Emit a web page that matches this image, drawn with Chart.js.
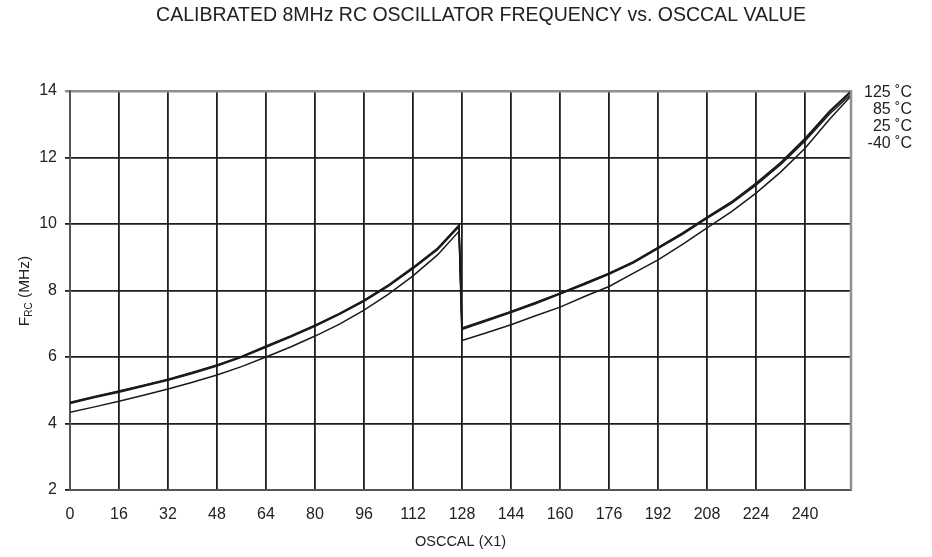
<!DOCTYPE html>
<html>
<head>
<meta charset="utf-8">
<script src="https://cdn.jsdelivr.net/npm/chart.js@4"></script>
<style>
  html, body { margin: 0; padding: 0; background: #fff; }
  #wrap { width: 932px; height: 557px; position: relative; }
</style>
</head>
<body>
<div id="wrap"><canvas id="c" width="932" height="557"></canvas></div>
<script>
// OSCCAL register values (x)
const osccal = [0, 8, 16, 24, 32, 40, 48, 56, 64, 72, 80, 88, 96, 104, 112, 120, 127,
                128, 136, 144, 152, 160, 168, 176, 184, 192, 200, 208, 216, 224, 232, 240, 248, 255];
// Frequency (MHz) for each temperature
const freq125 = [4.64, 4.81, 4.98, 5.15, 5.33, 5.54, 5.76, 6.02, 6.33, 6.63, 6.96, 7.31, 7.71, 8.17, 8.70, 9.27, 9.97,
                 6.87, 7.12, 7.37, 7.64, 7.92, 8.22, 8.52, 8.87, 9.30, 9.73, 10.21, 10.67, 11.23, 11.85, 12.58, 13.40, 14.00];
const freq85  = [4.60, 4.78, 4.94, 5.12, 5.30, 5.50, 5.73, 5.99, 6.29, 6.60, 6.92, 7.28, 7.67, 8.13, 8.66, 9.23, 9.92,
                 6.83, 7.08, 7.34, 7.60, 7.89, 8.18, 8.49, 8.83, 9.26, 9.69, 10.17, 10.62, 11.17, 11.78, 12.50, 13.31, 13.90];
const freq25  = [4.62, 4.80, 4.97, 5.14, 5.32, 5.53, 5.75, 6.01, 6.31, 6.62, 6.95, 7.30, 7.70, 8.15, 8.68, 9.26, 9.95,
                 6.86, 7.11, 7.36, 7.63, 7.91, 8.21, 8.51, 8.86, 9.29, 9.72, 10.20, 10.66, 11.21, 11.83, 12.55, 13.37, 13.97];
const freqM40 = [4.34, 4.50, 4.67, 4.85, 5.04, 5.24, 5.46, 5.71, 6.00, 6.30, 6.63, 6.99, 7.41, 7.89, 8.44, 9.07, 9.78,
                 6.50, 6.73, 6.97, 7.24, 7.50, 7.82, 8.12, 8.52, 8.92, 9.39, 9.88, 10.37, 10.93, 11.56, 12.28, 13.15, 13.85];
const seriesLabels = ['125 ˚C', '85 ˚C', '25 ˚C', '-40 ˚C'];
const xTicks = [0, 16, 32, 48, 64, 80, 96, 112, 128, 144, 160, 176, 192, 208, 224, 240];
const yTicks = [2, 4, 6, 8, 10, 12, 14];
const titleText = 'CALIBRATED 8MHz RC OSCILLATOR FREQUENCY vs. OSCCAL VALUE';
const xTitle = 'OSCCAL (X1)';

const FONT = '"Liberation Sans", Arial, sans-serif';
const allSeries = [freq125, freq85, freq25, freqM40];

const datasets = allSeries.map((arr, i) => ({
  label: seriesLabels[i],
  data: osccal.map((x, j) => ({ x: x, y: arr[j] })),
  borderColor: '#1a1a1a',
  borderWidth: 1.5,
  pointRadius: 0,
  tension: 0,
  fill: false
}));

const textPlugin = {
  id: 'texts',
  afterDraw(chart) {
    const ctx = chart.ctx;
    const ca = chart.chartArea;
    ctx.save();
    // right border
    ctx.strokeStyle = '#8c9096';
    ctx.lineWidth = 2.5;
    ctx.beginPath();
    ctx.moveTo(ca.right, ca.top - 1);
    ctx.lineTo(ca.right, ca.bottom);
    ctx.stroke();
    // title
    ctx.fillStyle = '#222';
    ctx.font = '19.5px ' + FONT;
    ctx.textAlign = 'center';
    ctx.textBaseline = 'middle';
    ctx.fillText(titleText, 481, 16);
    // series labels on the right
    ctx.font = '16px ' + FONT;
    ctx.textAlign = 'right';
    seriesLabels.forEach((t, i) => {
      ctx.fillText(t, ca.right + 61, ca.top + 2 + i * 17);
    });
    // y axis title with subscript
    ctx.translate(23, 291);
    ctx.rotate(-Math.PI / 2);
    ctx.textAlign = 'left';
    ctx.textBaseline = 'alphabetic';
    const f1 = '15.5px ' + FONT, f2 = '10px ' + FONT;
    ctx.font = f1; const wF = ctx.measureText('F').width;
    ctx.font = f2; const wRC = ctx.measureText('RC').width;
    ctx.font = f1; const wRest = ctx.measureText(' (MHz)').width;
    const total = wF + wRC + wRest;
    let x0 = -total / 2;
    ctx.font = f1; ctx.fillText('F', x0, 6); x0 += wF;
    ctx.font = f2; ctx.fillText('RC', x0, 9); x0 += wRC;
    ctx.font = f1; ctx.fillText(' (MHz)', x0, 6);
    ctx.restore();
  }
};

new Chart(document.getElementById('c'), {
  type: 'line',
  data: { datasets: datasets },
  options: {
    responsive: false,
    animation: false,
    layout: { padding: { left: 0, top: 91, right: 81, bottom: 0 } },
    plugins: { legend: { display: false }, title: { display: false }, tooltip: { enabled: false } },
    scales: {
      x: {
        type: 'linear',
        min: 0, max: 255,
        afterBuildTicks(scale) { scale.ticks = xTicks.map(v => ({ value: v })); },
        afterFit(scale) { scale.height = 67; },
        ticks: { color: '#222', font: { family: FONT, size: 16 }, padding: 15, maxRotation: 0, autoSkip: false },
        grid: { color: '#1e1e1e', lineWidth: 1.8, tickLength: 0, drawTicks: false },
        border: { color: '#555', width: 2 },
        title: { display: true, text: xTitle, color: '#222', font: { family: FONT, size: 14.5 }, padding: { top: 4, bottom: 6 } }
      },
      y: {
        type: 'linear',
        min: 2, max: 14,
        afterBuildTicks(scale) { scale.ticks = yTicks.map(v => ({ value: v })); },
        afterFit(scale) { scale.width = 70; },
        ticks: { color: '#222', font: { family: FONT, size: 16 }, padding: 8 },
        grid: {
          color: (c) => (c.tick && c.tick.value === 14) ? '#8c9096' : '#1e1e1e',
          lineWidth: (c) => (c.tick && c.tick.value === 14) ? 2.5 : 1.8,
          tickLength: 5
        },
        border: { color: '#555', width: 2 }
      }
    }
  },
  plugins: [textPlugin]
});
</script>
</body>
</html>
